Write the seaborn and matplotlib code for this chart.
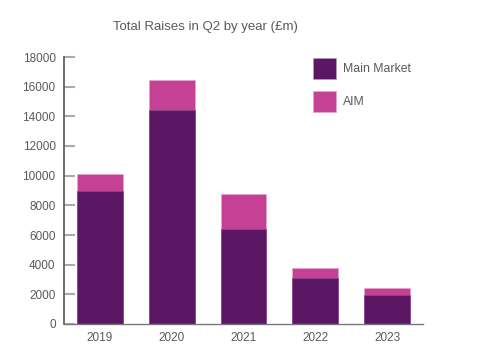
import matplotlib
matplotlib.use("Agg")
import matplotlib.pyplot as plt
import seaborn as sns
import pandas as pd
from matplotlib.patches import Patch

years = ["2019", "2020", "2021", "2022", "2023"]
main_market = [9000, 14450, 6430, 3120, 1930]
aim = [1110, 2000, 2320, 650, 520]
y_ticks = [0, 2000, 4000, 6000, 8000, 10000, 12000, 14000, 16000, 18000]

MAIN_C = "#5c1764"
AIM_C = "#c44194"
TXT = "#5a5a5a"

df = pd.DataFrame({"year": years, "main": main_market, "aim": aim})
df["total"] = df["main"] + df["aim"]

sns.set_theme(style="white")
plt.rcParams["font.family"] = ["Liberation Sans", "DejaVu Sans"]

fig = plt.figure(figsize=(4.83, 3.5), dpi=100)
ax = fig.add_axes([64/483, 1-324/350, (423-64)/483, (324-57)/350])

sns.barplot(data=df, x="year", y="total", color=AIM_C, saturation=1, width=0.64,
            edgecolor="#e9a3cf", linewidth=0.5, ax=ax)
sns.barplot(data=df, x="year", y="main", color=MAIN_C, saturation=1, width=0.64,
            edgecolor="#8a4a90", linewidth=0.5, ax=ax)

ax.set_xlim(-0.5, 4.5)
ax.set_ylim(0, 18000)
ax.set_yticks(y_ticks)
ax.set_yticklabels([str(v) for v in y_ticks])
ax.set_xlabel("")
ax.set_ylabel("")

for s in ["top", "right"]:
    ax.spines[s].set_visible(False)
ax.spines["left"].set_color("#555555")
ax.spines["left"].set_linewidth(1.2)
ax.spines["bottom"].set_color("#777777")
ax.spines["bottom"].set_linewidth(1.0)

ax.tick_params(axis="y", direction="in", length=8, width=1.5, color="#aaaaaa",
               labelsize=8.5, labelcolor=TXT, pad=6, left=True)
ax.tick_params(axis="x", length=0, labelsize=8.5, labelcolor=TXT, pad=6)

fig.text(205/483, 1-27/350, "Total Raises in Q2 by year (£m)", ha="center", va="center",
         fontsize=9.5, color=TXT)

handles = [Patch(facecolor=MAIN_C, edgecolor="#b898bc", linewidth=0.5, label="Main Market"),
           Patch(facecolor=AIM_C, edgecolor="#e9a3cf", linewidth=0.5, label="AIM")]
leg = ax.legend(handles=handles, loc="upper left", bbox_to_anchor=(313/483, 1-58/350),
                bbox_transform=fig.transFigure, frameon=False, borderpad=0, borderaxespad=0,
                handlelength=1.9, handleheight=2.3, labelspacing=0.92, handletextpad=0.55,
                fontsize=8.8)
for t in leg.get_texts():
    t.set_color(TXT)

fig.savefig("out.png", dpi=100, facecolor="white")
